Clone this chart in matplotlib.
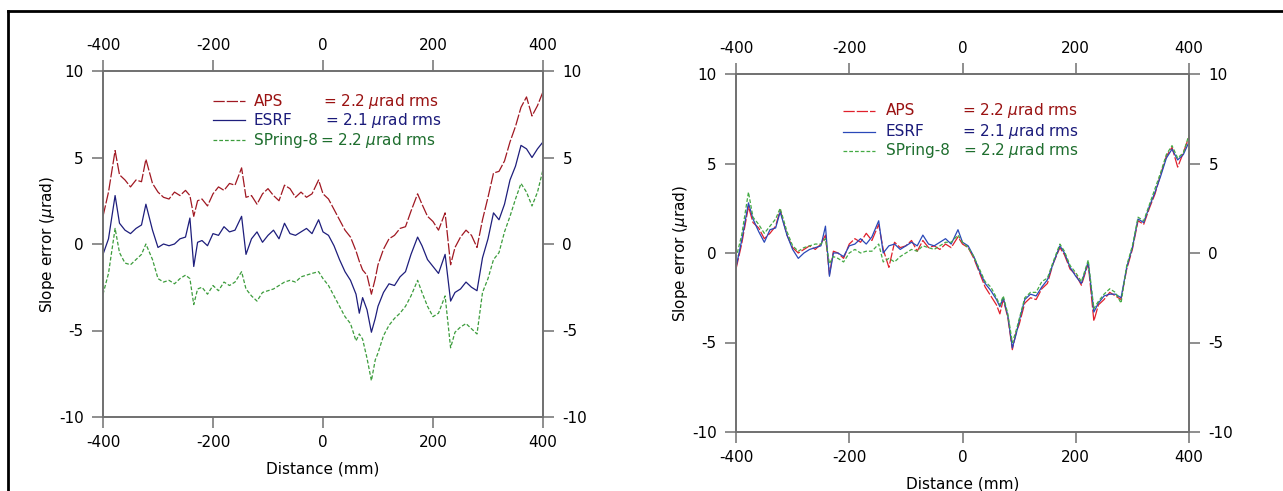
import matplotlib
matplotlib.use("Agg")
import matplotlib.pyplot as plt
from matplotlib.lines import Line2D

plt.rcParams['font.family'] = ['DejaVu Sans']

# ---------------- data ----------------
distance = [-400, -390, -378, -370, -360, -350, -340, -330, -322, -310,
            -300, -290, -280, -270, -260, -250, -242, -235, -228, -220,
            -210, -200, -190, -180, -170, -160, -148, -140, -130, -120,
            -110, -100, -90, -80, -70, -60, -50, -40, -30, -20,
            -8, 0, 10, 20, 30, 40, 50, 60, 66, 72,
            80, 88, 95, 100, 110, 120, 130, 140, 150, 160,
            172, 180, 190, 200, 210, 222, 232, 240, 250, 260,
            270, 280, 290, 300, 310, 320, 330, 340, 350, 360,
            370, 380, 390, 400]

# left panel (offset curves)
left_aps = [1.6, 3.0, 5.4, 4.0, 3.7, 3.3, 3.7, 3.6, 4.9, 3.5,
            3.0, 2.7, 2.6, 3.0, 2.8, 3.1, 2.8, 1.6, 2.5, 2.6,
            2.2, 2.9, 3.3, 3.1, 3.5, 3.4, 4.4, 2.7, 2.8, 2.3,
            2.9, 3.2, 2.8, 2.5, 3.4, 3.2, 2.7, 3.0, 2.7, 2.9,
            3.7, 2.9, 2.6, 2.0, 1.4, 0.8, 0.4, -0.4, -1.0, -1.5,
            -1.8, -2.9, -2.0, -1.2, -0.3, 0.3, 0.5, 0.9, 1.0, 1.9,
            2.9, 2.3, 1.6, 1.3, 0.8, 1.8, -1.2, -0.2, 0.4, 0.8,
            0.5, -0.2, 1.4, 2.7, 4.1, 4.2, 4.8, 5.9, 6.8, 7.9,
            8.5, 7.4, 8.0, 8.8]
left_esrf = [-0.6, 0.3, 2.8, 1.2, 0.8, 0.6, 0.9, 1.1, 2.3, 0.8,
             -0.2, 0.0, -0.1, 0.0, 0.3, 0.4, 1.5, -1.3, 0.1, 0.2,
             -0.1, 0.6, 0.5, 1.0, 0.7, 0.8, 1.6, -0.6, 0.3, 0.7,
             0.1, 0.5, 0.8, 0.3, 1.2, 0.6, 0.5, 0.7, 0.9, 0.6,
             1.4, 0.7, 0.5, -0.1, -0.9, -1.6, -2.1, -2.9, -4.0, -3.1,
             -3.8, -5.1, -4.3, -3.6, -2.8, -2.3, -2.4, -1.9, -1.6, -0.6,
             0.4, -0.1, -0.9, -1.3, -1.7, -0.6, -3.3, -2.8, -2.6, -2.2,
             -2.5, -2.7, -0.8, 0.3, 1.8, 1.4, 2.3, 3.7, 4.5, 5.7,
             5.5, 5.0, 5.5, 5.9]
left_spring8 = [-2.9, -1.7, 0.9, -0.5, -1.1, -1.2, -0.9, -0.6, 0.0, -0.9,
                -2.0, -2.2, -2.1, -2.3, -2.0, -1.8, -2.0, -3.5, -2.6, -2.5,
                -2.9, -2.4, -2.7, -2.2, -2.4, -2.2, -1.6, -2.6, -3.0, -3.3,
                -2.8, -2.7, -2.6, -2.4, -2.2, -2.1, -2.2, -1.9, -1.8, -1.7,
                -1.6, -2.0, -2.4, -3.0, -3.6, -4.2, -4.6, -5.6, -5.2, -5.5,
                -6.6, -7.9, -6.7, -6.3, -5.3, -4.7, -4.3, -4.0, -3.6, -3.0,
                -2.1, -2.8, -3.6, -4.2, -4.0, -3.0, -6.0, -5.1, -4.8, -4.6,
                -4.9, -5.2, -2.8, -2.0, -0.9, -0.5, 0.7, 1.6, 2.6, 3.5,
                3.0, 2.2, 3.0, 4.3]

# right panel (overlaid curves)
right_aps = [-0.9, 0.5, 2.6, 1.7, 1.4, 0.8, 1.1, 1.5, 2.4, 1.0,
             0.3, 0.0, 0.2, 0.4, 0.2, 0.5, 1.0, -1.2, 0.1, 0.0,
             -0.3, 0.5, 0.8, 0.6, 1.1, 0.7, 1.6, 0.2, -0.8, 0.6,
             0.3, 0.4, 0.7, 0.1, 0.7, 0.3, 0.4, 0.2, 0.5, 0.3,
             0.9, 0.5, 0.3, -0.3, -1.1, -1.9, -2.4, -2.9, -3.4, -2.6,
             -3.6, -5.4, -4.4, -4.0, -2.8, -2.5, -2.6, -2.0, -1.7, -0.6,
             0.3, -0.1, -0.9, -1.2, -1.8, -0.6, -3.8, -2.9, -2.6, -2.2,
             -2.4, -2.6, -0.9, 0.2, 1.8, 1.6, 2.5, 3.3, 4.4, 5.4,
             5.9, 4.8, 5.6, 6.5]
right_esrf = [-0.8, 0.7, 2.8, 1.9, 1.2, 0.6, 1.3, 1.4, 2.3, 1.0,
              0.2, -0.3, 0.0, 0.2, 0.3, 0.4, 1.5, -1.3, 0.0, 0.0,
              -0.2, 0.4, 0.5, 0.8, 0.5, 0.9, 1.8, 0.0, 0.4, 0.5,
              0.2, 0.4, 0.6, 0.4, 1.0, 0.5, 0.4, 0.6, 0.8, 0.5,
              1.3, 0.6, 0.4, -0.2, -1.0, -1.7, -2.1, -2.6, -3.0, -2.5,
              -3.5, -5.3, -4.5, -3.8, -2.6, -2.3, -2.4, -1.9, -1.5, -0.6,
              0.4, 0.0, -0.8, -1.3, -1.7, -0.5, -3.3, -2.8, -2.4, -2.3,
              -2.3, -2.5, -0.8, 0.3, 1.9, 1.7, 2.6, 3.4, 4.3, 5.3,
              5.8, 5.2, 5.5, 6.2]
right_spring8 = [-0.3, 1.0, 3.4, 2.0, 1.6, 1.1, 1.5, 1.9, 2.5, 1.2,
                 0.4, 0.1, 0.3, 0.4, 0.5, 0.5, 0.8, -0.6, -0.2, -0.3,
                 -0.5, 0.0, 0.2, 0.0, 0.1, 0.1, 0.5, -0.5, -0.3, -0.5,
                 -0.2, 0.0, 0.2, 0.1, 0.4, 0.3, 0.2, 0.4, 0.6, 0.6,
                 1.0, 0.6, 0.3, -0.2, -0.9, -1.6, -1.9, -2.5, -2.9, -2.4,
                 -3.4, -5.0, -4.3, -3.7, -2.5, -2.2, -2.2, -1.6, -1.4, -0.5,
                 0.5, 0.1, -0.7, -1.1, -1.6, -0.4, -3.1, -2.7, -2.3, -2.0,
                 -2.2, -2.8, -0.7, 0.4, 2.0, 1.8, 2.7, 3.6, 4.5, 5.5,
                 6.0, 5.3, 5.6, 6.6]

labels = ["APS", "ESRF", "SPring-8"]
rms_text = [r"= 2.2 $\mu$rad rms", r"= 2.1 $\mu$rad rms", r"= 2.2 $\mu$rad rms"]
x_ticks = [-400, -200, 0, 200, 400]
y_ticks = [-10, -5, 0, 5, 10]

# ---------------- styling ----------------
W, H = 1283, 491
fig = plt.figure(figsize=(W / 100, H / 100), dpi=100)

text_colors = ["#9a1212", "#1a1a7a", "#1e6e2e"]
left_colors = ["#a01822", "#1e1e7c", "#3c9c3c"]
right_colors = ["#e0202c", "#2a48b8", "#44aa44"]
styles = [dict(dashes=(9, 1.6)), dict(linestyle='-'), dict(dashes=(3, 1.6))]
FS = 11
spine_col = "#707070"


def setup(ax):
    ax.set_xlim(-400, 400)
    ax.set_ylim(-10, 10)
    ax.set_xticks(x_ticks)
    ax.set_yticks(y_ticks)
    ax.set_xticklabels([str(v) for v in x_ticks])
    ax.set_yticklabels([str(v) for v in y_ticks])
    ax.tick_params(axis='both', which='both', direction='out', length=8,
                   width=1.1, color=spine_col, labelsize=FS,
                   top=True, right=True, labeltop=True, labelright=True)
    ax.tick_params(axis='x', pad=5)
    ax.tick_params(axis='y', pad=6)
    for s in ax.spines.values():
        s.set_color(spine_col)
        s.set_linewidth(1.4)
    ax.set_xlabel("Distance (mm)", fontsize=FS, labelpad=8)
    ax.set_ylabel(r"Slope error ($\mu$rad)", fontsize=FS, labelpad=1)


def legend(ax, colors, x0, x1, xt, xe, ys):
    for i in range(3):
        ax.add_line(Line2D([x0, x1], [ys[i], ys[i]], transform=ax.transAxes,
                           color=colors[i], lw=0.9, **styles[i]))
        ax.text(xt, ys[i], labels[i], transform=ax.transAxes, color=text_colors[i],
                fontsize=FS, va='center', ha='left')
        ax.text(xe[i], ys[i], rms_text[i], transform=ax.transAxes, color=text_colors[i],
                fontsize=FS, va='center', ha='left')


# left panel
axL = fig.add_axes([103 / W, 1 - 417 / H, 440 / W, 346 / H])
setup(axL)
for ys, c, st in zip([left_aps, left_esrf, left_spring8], left_colors, styles):
    axL.plot(distance, ys, color=c, lw=0.9, **st)
legend(axL, left_colors, 0.25, 0.323, 0.343, [0.50, 0.505, 0.493], [0.913, 0.858, 0.80])

# right panel
axR = fig.add_axes([736 / W, 1 - 432 / H, 453 / W, 358 / H])
setup(axR)
for ys, c, st in zip([right_aps, right_esrf, right_spring8], right_colors, styles):
    axR.plot(distance, ys, color=c, lw=0.9, **st)
legend(axR, right_colors, 0.236, 0.307, 0.331, [0.499, 0.50, 0.502], [0.897, 0.838, 0.785])

# outer frame (top and left edges only)
fig.add_artist(Line2D([8 / W, 8 / W], [0, 1 - 11 / H], transform=fig.transFigure,
                      color='black', lw=2))
fig.add_artist(Line2D([8 / W, 1], [1 - 11 / H, 1 - 11 / H], transform=fig.transFigure,
                      color='black', lw=2))

fig.savefig("out.png", dpi=100)
